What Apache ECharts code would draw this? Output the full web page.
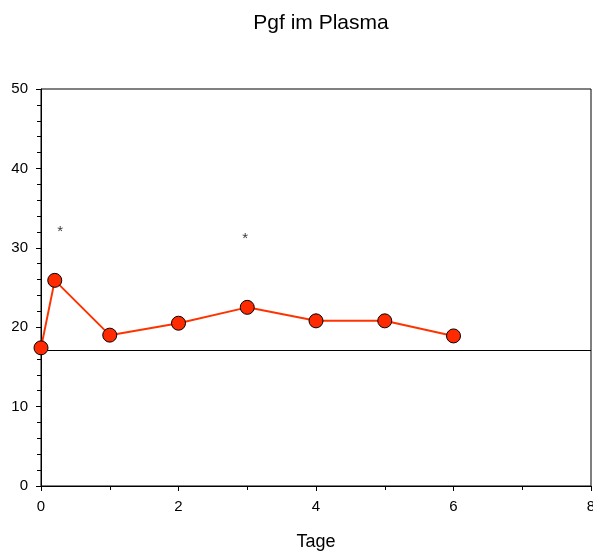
<!DOCTYPE html>
<html>
<head>
<meta charset="utf-8">
<script src="https://cdn.jsdelivr.net/npm/echarts@6/dist/echarts.min.js"></script>
<style>
  html, body { margin: 0; padding: 0; background: #fff; }
  #chart { width: 593px; height: 551px; }
</style>
</head>
<body>
<div id="chart"></div>
<script>
// Pgf im Plasma – Verlauf über Tage
const tage = [0, 0.2, 1, 2, 3, 4, 5, 6]
const pgf = [17.4, 25.9, 19.0, 20.5, 22.5, 20.8, 20.8, 18.9]
const starX = [0.28, 2.97]
const starY = [32.0, 31.1]
const baseline = 17.1

const chart = echarts.init(document.getElementById('chart'))
const font = 'Liberation Sans, Arial, sans-serif'

chart.setOption({
  animation: false,
  title: {
    text: 'Pgf im Plasma',
    left: 316,
    top: 8,
    textAlign: 'center',
    textStyle: { fontFamily: font, fontSize: 21, fontWeight: 'normal', color: '#000' },
  },
  grid: {
    left: 41, right: 2, top: 89, bottom: 65,
    containLabel: false,
    outerBoundsMode: 'none',
    show: true, borderColor: '#000', borderWidth: 1, backgroundColor: 'transparent',
  },
  xAxis: {
    type: 'value',
    min: 0, max: 8, interval: 2,
    name: 'Tage',
    nameLocation: 'middle',
    nameGap: 47,
    nameTextStyle: { fontFamily: font, fontSize: 18, color: '#000' },
    axisLine: { lineStyle: { color: '#000' } },
    axisTick: { show: true, length: 5, lineStyle: { color: '#000' } },
    minorTick: { show: true, splitNumber: 2, length: 4, lineStyle: { color: '#000' } },
    axisLabel: { fontFamily: font, fontSize: 15, color: '#000', margin: 13 },
    splitLine: { show: false },
  },
  yAxis: {
    type: 'value',
    min: 0, max: 50, interval: 10,
    axisLine: { show: true, lineStyle: { color: '#000' } },
    axisTick: { show: true, length: 5, lineStyle: { color: '#000' } },
    minorTick: { show: true, splitNumber: 5, length: 4, lineStyle: { color: '#000' } },
    axisLabel: { fontFamily: font, fontSize: 15, color: '#000', margin: 13 },
    splitLine: { show: false },
  },
  series: [
    {
      type: 'line',
      data: tage.map((x, i) => [x, pgf[i]]),
      symbol: 'circle',
      symbolSize: 14,
      lineStyle: { color: '#ff3300', width: 2 },
      itemStyle: { color: '#ff2a00', borderColor: '#000', borderWidth: 1 },
      z: 5,
      markLine: {
        silent: true,
        symbol: 'none',
        label: { show: false },
        lineStyle: { color: '#000', width: 1, type: 'solid' },
        data: [{ yAxis: baseline }],
      },
    },
    {
      type: 'scatter',
      data: starX.map((x, i) => [x, starY[i]]),
      symbolSize: 1,
      itemStyle: { color: 'transparent' },
      label: {
        show: true,
        position: 'inside',
        formatter: '*',
        fontFamily: font,
        fontSize: 15,
        color: '#000',
      },
    },
  ],
})
</script>
</body>
</html>
